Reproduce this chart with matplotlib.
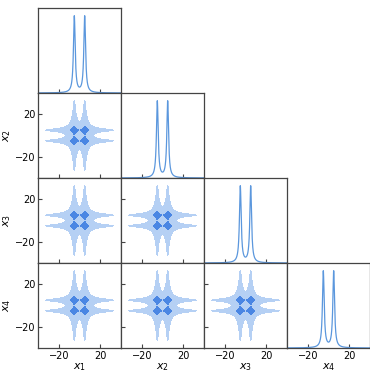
import matplotlib

matplotlib.use("Agg")
import matplotlib.pyplot as plt
import numpy as np

var_labels = ["$x_1$", "$x_2$", "$x_3$", "$x_4$"]
peak_centers = [-5.0, 5.0]
peak_width = 1.0
# The 2D panels look smoothed a little more than the 1D curves.
peak_width_2d = 1.25
axis_limits = [-40, 40]
tick_values = [-20, 20]
# Relative density levels for the light (outer) and dark (core) fills.
fill_levels = [0.0031, 0.12, 1.01]

LINE_COLOR = "#5b97dd"
FILL_COLORS = ["#b5d0f4", "#4a86e3"]
SPINE_COLOR = "#444444"


def marginal(x, width):
    dens = np.zeros_like(x)
    for c in peak_centers:
        dens += 1.0 / (np.pi * width * (1 + ((x - c) / width) ** 2))
    return dens / len(peak_centers)


def main() -> None:
    n_vars = len(var_labels)
    fig = plt.figure(figsize=(3.7, 3.72), dpi=100)
    left, right, bottom, top = 38 / 370, 1.0, 1 - 348 / 372, 1 - 8 / 372
    w = (right - left) / n_vars
    h = (top - bottom) / n_vars

    grid = np.linspace(axis_limits[0], axis_limits[1], 801)
    dens_1d = marginal(grid, peak_width)
    gx, gy = np.meshgrid(grid, grid)
    dens_2d = marginal(gx, peak_width_2d) * marginal(gy, peak_width_2d)
    dens_2d = dens_2d / dens_2d.max()

    for i in range(n_vars):
        for j in range(i + 1):
            ax = fig.add_axes([left + j * w, top - (i + 1) * h, w, h])
            if i == j:
                ax.plot(grid, dens_1d, color=LINE_COLOR, lw=0.9)
                ax.set_ylim(0, dens_1d.max() * 1.1)
                ax.set_yticks([])
            else:
                ax.contourf(gx, gy, dens_2d, levels=fill_levels, colors=FILL_COLORS)
                ax.set_ylim(*axis_limits)
                ax.set_yticks(tick_values)
            ax.set_xlim(*axis_limits)
            ax.set_xticks(tick_values)
            ax.tick_params(direction="in", length=3, width=0.8, labelsize=7,
                           colors=SPINE_COLOR, labelcolor="black", pad=2)
            for s in ax.spines.values():
                s.set_color(SPINE_COLOR)
                s.set_linewidth(0.9)
            if i == n_vars - 1:
                ax.set_xlabel(var_labels[j], fontsize=8, labelpad=0)
            else:
                ax.set_xticklabels([])
            if j == 0 and i > 0:
                ax.set_ylabel(var_labels[i], fontsize=8, labelpad=1)
            elif i != j:
                ax.set_yticklabels([])

    fig.savefig("out.png", dpi=100)


if __name__ == "__main__":
    main()
